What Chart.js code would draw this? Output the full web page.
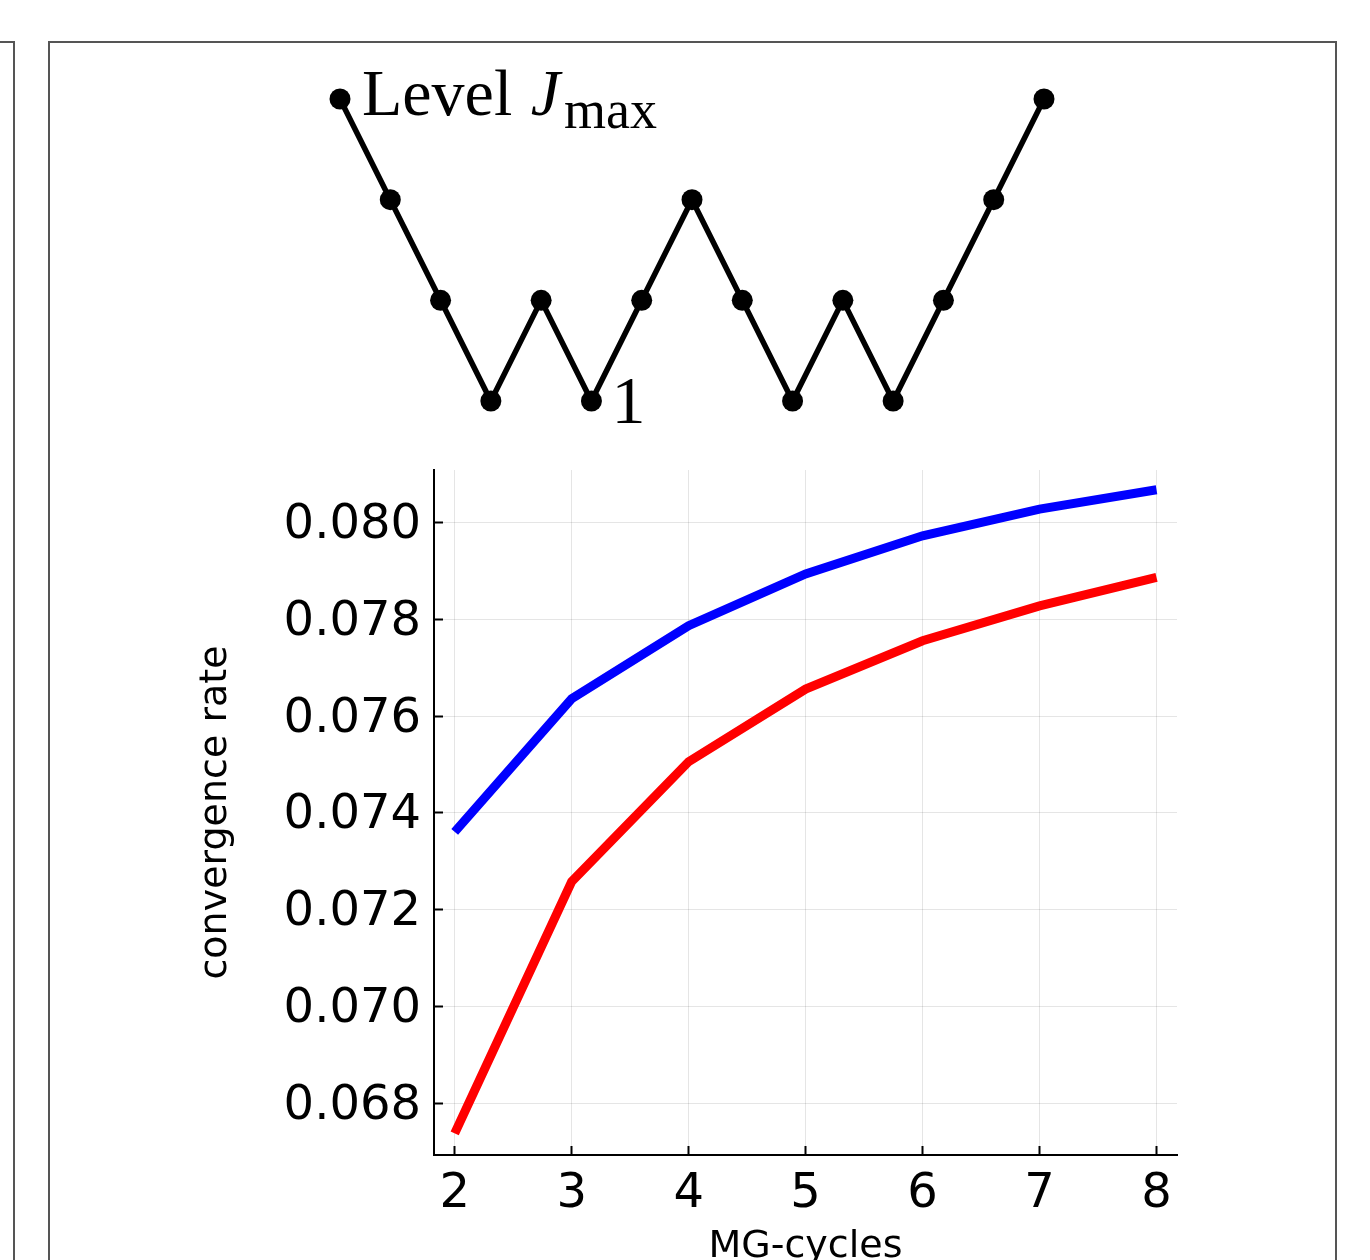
<!DOCTYPE html>
<html>
<head>
<meta charset="utf-8">
<script src="https://cdn.jsdelivr.net/npm/chart.js@4.4.0/dist/chart.umd.min.js"></script>
<style>
    html, body { margin: 0; padding: 0; background: #fff; overflow: hidden; }
    body { width: 1370px; height: 1260px; position: relative; }
    .panelLeft { position: absolute; left: -20px; top: 41px; width: 33px; height: 1300px;
                 border-top: 2px solid #555; border-right: 2px solid #555; }
    .panelMain { position: absolute; left: 48px; top: 41px; width: 1285px; height: 1300px;
                 border: 2px solid #555; border-bottom: none; }
    canvas { position: absolute; left: 0; }
    #cycleChart { top: 0; }
    #rateChart { top: 0; }
</style>
</head>
<body>
<div class="panelLeft"></div>
<div class="panelMain"></div>
<canvas id="cycleChart" width="1370" height="470"></canvas>
<canvas id="rateChart" width="1370" height="1260"></canvas>
<script>
// W-cycle sketch: grid level visited at each step
const cycleSteps = [0, 1, 2, 3, 4, 5, 6, 7, 8, 9, 10, 11, 12, 13, 14];
const cycleLevels = [4, 3, 2, 1, 2, 1, 2, 3, 2, 1, 2, 1, 2, 3, 4];

// convergence rate against number of MG-cycles
const mgCycles = [2, 3, 4, 5, 6, 7, 8];
const blueRates = [0.07361, 0.07636, 0.07787, 0.07894, 0.07973, 0.08028, 0.08068];
const redRates = [0.06738, 0.07258, 0.07506, 0.07656, 0.07756, 0.07828, 0.07887];
const xTickValues = [2, 3, 4, 5, 6, 7, 8];
const yTickValues = [0.068, 0.070, 0.072, 0.074, 0.076, 0.078, 0.080];

Chart.defaults.animation = false;
Chart.defaults.devicePixelRatio = 1;

const cycleLabels = {
    id: 'cycleLabels',
    afterDatasetsDraw(chart) {
        const ctx = chart.ctx;
        const pts = chart.getDatasetMeta(0).data;
        const top = pts[0];
        const low = pts[5];
        ctx.save();
        ctx.fillStyle = '#000';
        ctx.textBaseline = 'alphabetic';
        ctx.textAlign = 'left';
        let x = top.x + 22;
        const y = top.y + 16;
        ctx.font = '66px "Liberation Serif"';
        ctx.fillText('Level ', x, y);
        x += ctx.measureText('Level ').width;
        ctx.font = 'italic 66px "Liberation Serif"';
        ctx.fillText('J', x + 2, y);
        x += ctx.measureText('J').width + 6;
        ctx.font = '54px "Liberation Serif"';
        ctx.fillText('max', x, y + 13);
        ctx.font = '68px "Liberation Serif"';
        ctx.fillText('1', low.x + 20, low.y + 22);
        ctx.restore();
    }
};

new Chart(document.getElementById('cycleChart'), {
    type: 'line',
    data: {
        datasets: [{
            data: cycleSteps.map((s, i) => ({ x: s, y: cycleLevels[i] })),
            borderColor: '#000',
            borderWidth: 5.5,
            pointRadius: 10.5,
            pointBackgroundColor: '#000',
            pointBorderWidth: 0,
            tension: 0,
            clip: false
        }]
    },
    options: {
        responsive: false,
        layout: { padding: { left: 340, right: 326, top: 99, bottom: 69 } },
        scales: {
            x: { type: 'linear', display: false, min: 0, max: 14 },
            y: { type: 'linear', display: false, min: 1, max: 4 }
        },
        plugins: { legend: { display: false }, tooltip: { enabled: false } }
    },
    plugins: [cycleLabels]
});

const tickFont = { family: '"DejaVu Sans"', size: 48 };
const titleFont = { family: '"DejaVu Sans"', size: 38 };

new Chart(document.getElementById('rateChart'), {
    type: 'line',
    data: {
        datasets: [{
            data: mgCycles.map((c, i) => ({ x: c, y: blueRates[i] })),
            borderColor: '#0000ff',
            borderWidth: 9,
            pointRadius: 0,
            tension: 0
        }, {
            data: mgCycles.map((c, i) => ({ x: c, y: redRates[i] })),
            borderColor: '#ff0000',
            borderWidth: 9,
            pointRadius: 0,
            tension: 0
        }]
    },
    options: {
        responsive: false,
        layout: { padding: { left: 0, right: 193, top: 470, bottom: 0 } },
        scales: {
            x: {
                type: 'linear',
                min: 1.823,
                max: 8.175,
                afterBuildTicks: scale => { scale.ticks = xTickValues.map(v => ({ value: v })); },
                afterFit: scale => { scale.height = 105; },
                ticks: { font: tickFont, color: '#000', padding: 20, maxRotation: 0 },
                grid: { color: 'rgba(0,0,0,0.1)', lineWidth: 1, tickLength: -9, tickColor: '#000', tickWidth: 2 },
                border: { display: true, color: '#000', width: 2 },
                title: { display: true, text: 'MG-cycles', font: { ...titleFont, lineHeight: 0.7 }, color: '#000', padding: 0 }
            },
            y: {
                type: 'linear',
                min: 0.066931,
                max: 0.081089,
                afterBuildTicks: scale => { scale.ticks = yTickValues.map(v => ({ value: v })); },
                afterFit: scale => { scale.width = 434; },
                ticks: { font: tickFont, color: '#000', padding: 22, labelOffset: 3, callback: v => v.toFixed(3) },
                grid: { color: 'rgba(0,0,0,0.1)', lineWidth: 1, tickLength: -9, tickColor: '#000', tickWidth: 2 },
                border: { display: true, color: '#000', width: 2 },
                title: { display: true, text: 'convergence rate', font: titleFont, color: '#000', padding: { top: 193, bottom: 0 } }
            }
        },
        plugins: { legend: { display: false }, tooltip: { enabled: false } }
    }
});
</script>
</body>
</html>
